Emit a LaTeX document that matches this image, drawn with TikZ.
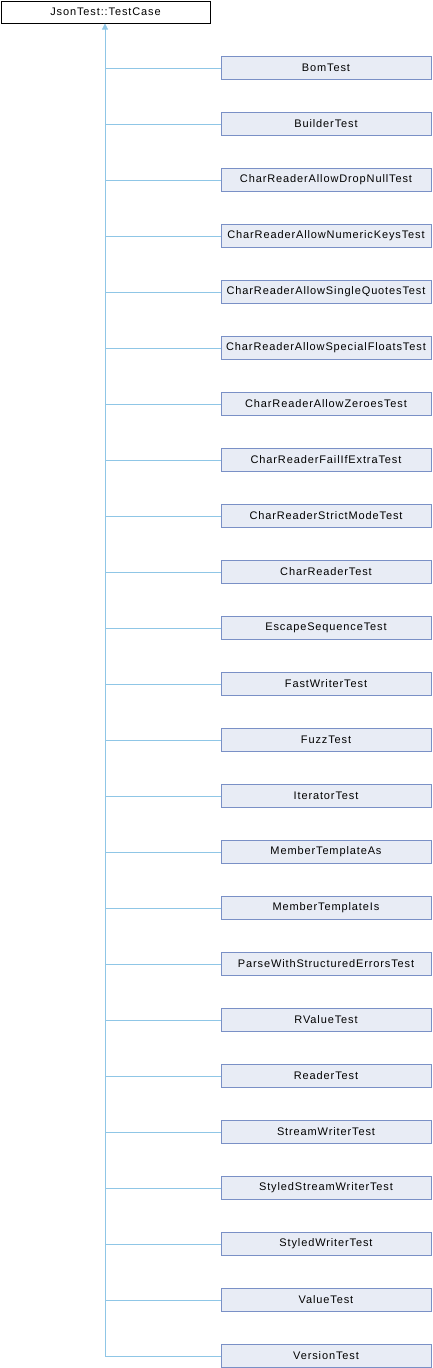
\documentclass[tikz,border=0pt]{standalone}
\usepackage{fontspec}
\setmainfont{Liberation Sans}[LetterSpace=8]
\usetikzlibrary{arrows.meta}
\definecolor{edgeblue}{HTML}{8FC6E6}
\definecolor{boxfill}{HTML}{E8ECF5}
\definecolor{boxline}{HTML}{7A90C6}
\tikzset{
  basebox/.style={draw=black, fill=white, minimum width=209pt, minimum height=22pt, inner sep=0pt, font=\fontsize{11}{13}\selectfont},
  classbox/.style={draw=boxline, fill=boxfill, minimum width=210pt, minimum height=23pt, inner sep=0pt, font=\fontsize{11}{13}\selectfont},
  inherit/.style={draw=edgeblue, line width=0.8pt},
}
\begin{document}
\begin{tikzpicture}[x=1pt, y=1pt]
        \useasboundingbox (0,0) rectangle (432,-1368);

        % Base class
        \node[basebox] (testcase) at (105.5,-12) {JsonTest::TestCase};
        \coordinate (stem) at (105,-23.5);

        % Derived test classes
        \foreach \name [count=\i] in {BomTest, BuilderTest, CharReaderAllowDropNullTest,
            CharReaderAllowNumericKeysTest, CharReaderAllowSingleQuotesTest,
            CharReaderAllowSpecialFloatsTest, CharReaderAllowZeroesTest,
            CharReaderFailIfExtraTest, CharReaderStrictModeTest, CharReaderTest,
            EscapeSequenceTest, FastWriterTest, FuzzTest, IteratorTest,
            MemberTemplateAs, MemberTemplateIs, ParseWithStructuredErrorsTest,
            RValueTest, ReaderTest, StreamWriterTest, StyledStreamWriterTest,
            StyledWriterTest, ValueTest, VersionTest} {
            \node[classbox] (c\i) at (326,{-68-56*(\i-1)}) {\name};
            \draw[inherit] (c\i.west) -- (c\i.west -| stem);
        }

        % Trunk with arrow to the base class
        \draw[inherit, -{Triangle[length=6pt, width=6pt, fill=edgeblue]}] (c24.west -| stem) -- (stem);
    \end{tikzpicture}
\end{document}
